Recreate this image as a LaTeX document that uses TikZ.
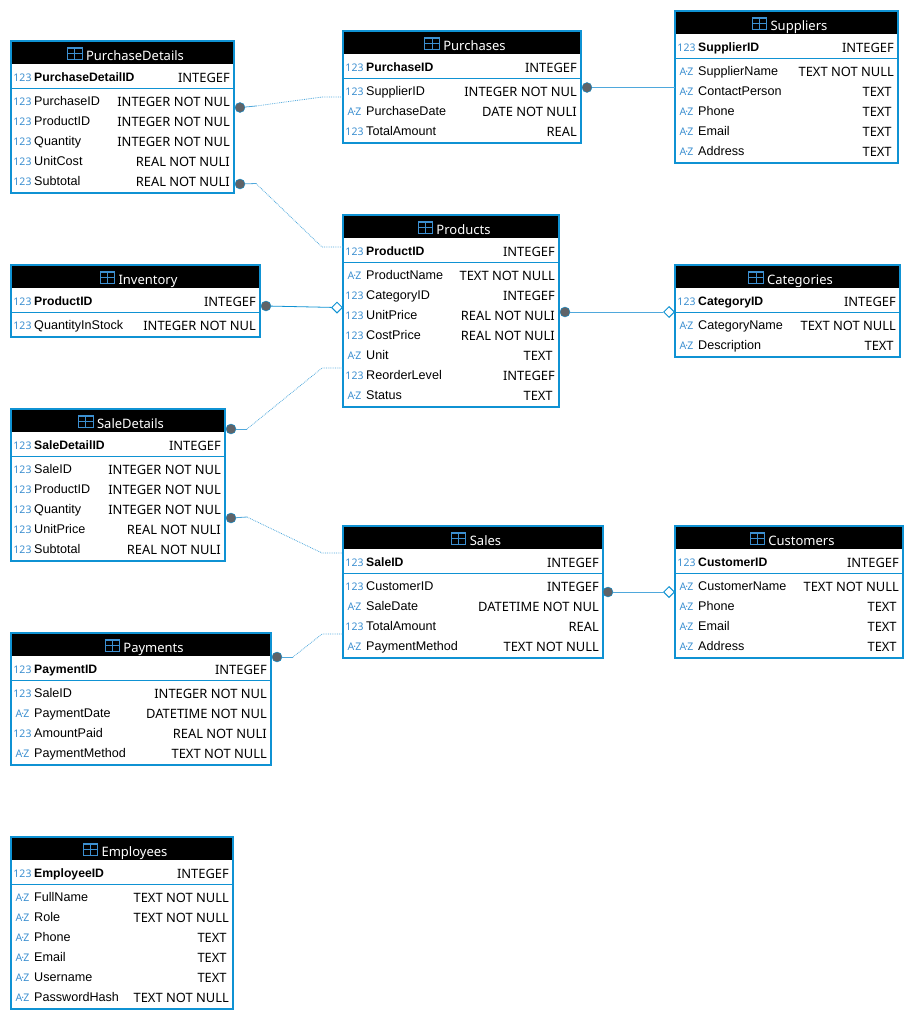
\documentclass[tikz,border=0pt]{standalone}
\usepackage{fontspec}
\setmainfont{Noto Sans}
\newfontfamily\colfont{Liberation Sans}
\usetikzlibrary{positioning,shapes.geometric}
\definecolor{tableblue}{HTML}{0F92D3}
\definecolor{iconblue}{HTML}{3C8FD0}
\definecolor{linkblue}{HTML}{4FA8DC}
\definecolor{dotgrey}{HTML}{5F6368}
\newcommand{\az}{A\kern-0.9pt·\kern-0.9pt Z}
\tikzset{
    tablebox/.style={draw=tableblue,line width=2pt,inner sep=0pt,outer sep=0pt,anchor=north west},
    titletext/.style={text=white,font=\fontsize{13}{15}\selectfont,inner sep=0pt,anchor=base},
    typeicon/.style={text=iconblue,font=\fontsize{10.5}{12}\selectfont,inner sep=0pt,anchor=base},
    colname/.style={font=\colfont\fontsize{12.6}{14}\selectfont,inner sep=0pt,anchor=base west},
    pkname/.style={font=\colfont\fontsize{12.2}{14}\selectfont\bfseries,inner sep=0pt,anchor=base west},
    coltype/.style={font=\fontsize{12.9}{15}\selectfont,inner sep=0pt,anchor=base east},
    fkdot/.style={circle,fill=dotgrey,draw=tableblue,line width=0.4pt,minimum size=10pt,inner sep=0pt},
    refdiamond/.style={diamond,draw=tableblue,fill=white,line width=1pt,minimum size=11pt,inner sep=0pt},
    solidlink/.style={draw=linkblue,line width=0.8pt},
    dotlink/.style={draw=linkblue,line width=0.8pt,densely dotted},
}
% #1 name, #2 left, #3 right, #4 top, #5 number of rows, #6 title, #7 key, #8 key type, #9 rows
\newcommand{\dbtable}[9]{
    \fill (#2,#4) rectangle (#3,#4+23);
    \node [tablebox,minimum width={(#3-(#2))*1pt},minimum height={(52+20*#5)*1pt}] (#1) at (#2,#4) {};
    \node [titletext] (#1 title) at ({(#2+#3)/2+12.5},#4+19) {#6};
    \node [minimum width=14pt,minimum height=11pt,inner sep=0pt] (#1 icon) at ([xshift=-11pt]#1 title.west |- 0,#4+12.5) {};
    \draw [iconblue,line width=0.9pt] (#1 icon.south west) rectangle (#1 icon.north east);
    \draw [iconblue,line width=0.9pt] (#1 icon.west) -- (#1 icon.east) (#1 icon.north) -- (#1 icon.south);
    \draw [iconblue,line width=1.6pt] (#1 icon.north west) -- (#1 icon.north east);
    \node [typeicon] (#1 keyicon) at (#2+11.5,#4+40.5) {123};
    \node [pkname] (#1 key) at (#2+23,#4+40.5) {#7};
    \node [coltype] (#1 keytype) at (#3-4,#4+41.5) {#8};
    \draw [tableblue,line width=1pt] (#2,#4+47) -- (#3,#4+47);
    \foreach \ic/\nm/\ty [count=\k from 0] in {#9}
    {
    \node [typeicon] (#1 icon\k) at (#2+11.5,#4+64.5+20*\k) {\ic};
    \node [colname] (#1 name\k) at (#2+23,#4+64.5+20*\k) {\nm};
    \node [coltype] (#1 type\k) at (#3-4,#4+65.5+20*\k) {\ty};
    }
}
\begin{document}
\begin{tikzpicture}[x=1pt,y=-1pt]
    \useasboundingbox (0,0) rectangle (914,1020);
    \dbtable{PurchaseDetails}{11}{234}{41}{5}{PurchaseDetails}{PurchaseDetailID}{INTEGEF}{123/PurchaseID/INTEGER NOT NUL,123/ProductID/INTEGER NOT NUL,123/Quantity/INTEGER NOT NUL,123/UnitCost/REAL NOT NULI,123/Subtotal/REAL NOT NULI}
    \dbtable{Purchases}{343}{581}{31}{3}{Purchases}{PurchaseID}{INTEGEF}{123/SupplierID/INTEGER NOT NUL,\az/PurchaseDate/DATE NOT NULI,123/TotalAmount/REAL}
    \dbtable{Suppliers}{675}{898}{11}{5}{Suppliers}{SupplierID}{INTEGEF}{\az/SupplierName/TEXT NOT NULL,\az/ContactPerson/TEXT\,,\az/Phone/TEXT\,,\az/Email/TEXT\,,\az/Address/TEXT\,}
    \dbtable{Products}{343}{559}{215}{7}{Products}{ProductID}{INTEGEF}{\az/ProductName/TEXT NOT NULL,123/CategoryID/INTEGEF,123/UnitPrice/REAL NOT NULI,123/CostPrice/REAL NOT NULI,\az/Unit/TEXT\,,123/ReorderLevel/INTEGEF,\az/Status/TEXT\,}
    \dbtable{Inventory}{11}{260}{265}{1}{Inventory}{ProductID}{INTEGEF}{123/QuantityInStock/INTEGER NOT NUL}
    \dbtable{Categories}{675}{900}{265}{2}{Categories}{CategoryID}{INTEGEF}{\az/CategoryName/TEXT NOT NULL,\az/Description/TEXT\,}
    \dbtable{SaleDetails}{11}{225}{409}{5}{SaleDetails}{SaleDetailID}{INTEGEF}{123/SaleID/INTEGER NOT NUL,123/ProductID/INTEGER NOT NUL,123/Quantity/INTEGER NOT NUL,123/UnitPrice/REAL NOT NULI,123/Subtotal/REAL NOT NULI}
    \dbtable{Sales}{343}{603}{526}{4}{Sales}{SaleID}{INTEGEF}{123/CustomerID/INTEGEF,\az/SaleDate/DATETIME NOT NUL,123/TotalAmount/REAL,\az/PaymentMethod/TEXT NOT NULL}
    \dbtable{Customers}{675}{903}{526}{4}{Customers}{CustomerID}{INTEGEF}{\az/CustomerName/TEXT NOT NULL,\az/Phone/TEXT\,,\az/Email/TEXT\,,\az/Address/TEXT\,}
    \dbtable{Payments}{11}{271}{633}{4}{Payments}{PaymentID}{INTEGEF}{123/SaleID/INTEGER NOT NUL,\az/PaymentDate/DATETIME NOT NUL,123/AmountPaid/REAL NOT NULI,\az/PaymentMethod/TEXT NOT NULL}
    \dbtable{Employees}{11}{233}{837}{6}{Employees}{EmployeeID}{INTEGEF}{\az/FullName/TEXT NOT NULL,\az/Role/TEXT NOT NULL,\az/Phone/TEXT\,,\az/Email/TEXT\,,\az/Username/TEXT\,,\az/PasswordHash/TEXT NOT NULL}
    % connector ends
    \coordinate (purchases in) at (343,97);
    \coordinate (suppliers in) at (675,87.5);
    \coordinate (products top) at (343,247);
    \coordinate (products mid) at (343,368);
    \coordinate (sales top) at (343,553);
    \coordinate (sales mid) at (343,634);
    \coordinate (pd bend a) at (256,106);
    \coordinate (pd fade a) at (322,97);
    \coordinate (pd bend b) at (256,183.5);
    \coordinate (pd fade b) at (322,247);
    \coordinate (sd bend a) at (247,429);
    \coordinate (sd fade a) at (322,368);
    \coordinate (sd bend b) at (247,517);
    \coordinate (sd fade b) at (322,553);
    \coordinate (pay bend) at (293,657);
    \coordinate (pay fade) at (322,634);
    \node [fkdot] (dot pd a) at (240,107.5) {};
    \node [fkdot] (dot pd b) at (240,184) {};
    \node [fkdot] (dot pur) at (587,87.5) {};
    \node [fkdot] (dot inv) at (266,306) {};
    \node [fkdot] (dot prod) at (565,312) {};
    \node [fkdot] (dot sd a) at (231,429) {};
    \node [fkdot] (dot sd b) at (231,518) {};
    \node [fkdot] (dot sale) at (608,592) {};
    \node [fkdot] (dot pay) at (277,657) {};
    \node [refdiamond] (ref inv) at (337,307.5) {};
    \node [refdiamond] (ref cat) at (669,312) {};
    \node [refdiamond] (ref cust) at (669,592) {};
    \draw [solidlink] (dot pd a) -- (pd bend a);
    \draw [dotlink] (pd bend a) -- (pd fade a) -- (purchases in);
    \draw [solidlink] (dot pd b) -- (pd bend b);
    \draw [dotlink] (pd bend b) -- (pd fade b) -- (products top);
    \draw [solidlink] (dot pur) -- (suppliers in);
    \draw [draw=tableblue,line width=0.8pt] (dot inv) -- (ref inv);
    \draw [solidlink] (dot prod) -- (ref cat);
    \draw [solidlink] (dot sd a) -- (sd bend a);
    \draw [dotlink] (sd bend a) -- (sd fade a) -- (products mid);
    \draw [solidlink] (dot sd b) -- (sd bend b);
    \draw [dotlink] (sd bend b) -- (sd fade b) -- (sales top);
    \draw [solidlink] (dot sale) -- (ref cust);
    \draw [solidlink] (dot pay) -- (pay bend);
    \draw [dotlink] (pay bend) -- (pay fade) -- (sales mid);
\end{tikzpicture}
\end{document}
